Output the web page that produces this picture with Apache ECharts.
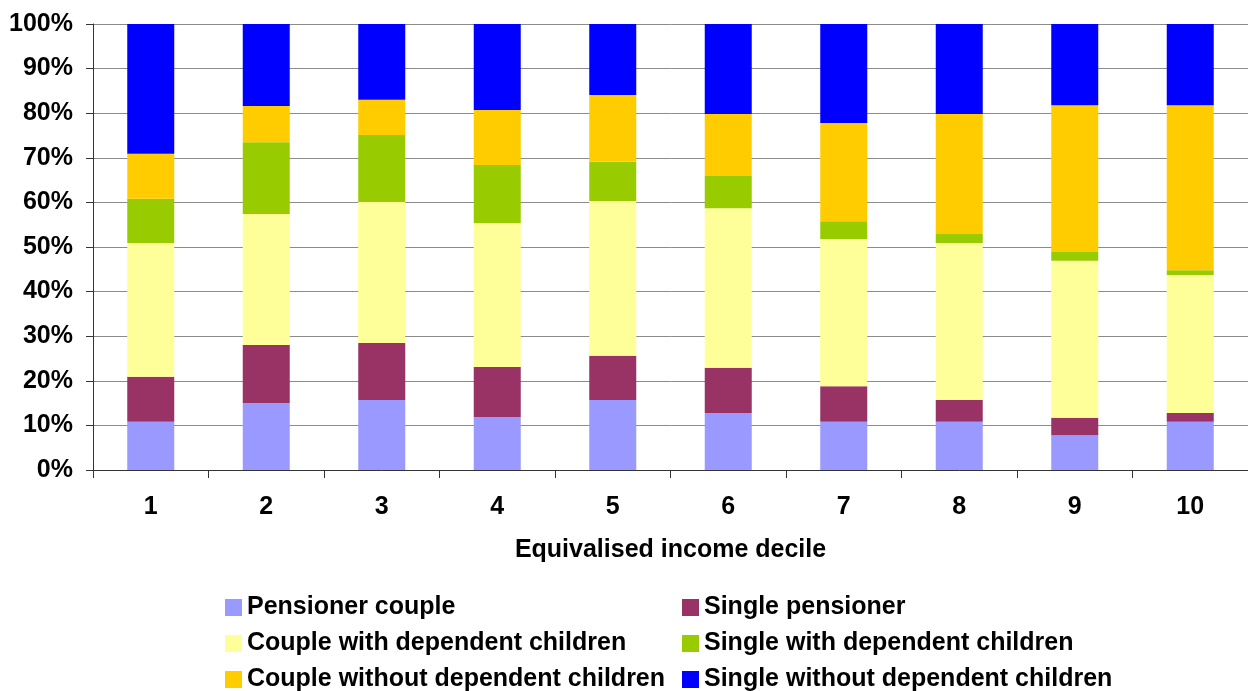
<!DOCTYPE html>
<html>
<head>
<meta charset="utf-8">
<title>Household type by equivalised income decile</title>
<script src="https://cdn.jsdelivr.net/npm/echarts@6/dist/echarts.min.js"></script>
<style>
  html, body { margin: 0; padding: 0; background: #ffffff; }
  #chart { width: 1248px; height: 691px; }
</style>
</head>
<body>
<div id="chart"></div>
<script>
// Income deciles along the x axis
const deciles = ['1', '2', '3', '4', '5', '6', '7', '8', '9', '10'];

// Share of each household type within a decile (%)
const pensionerCouple        = [10.8, 15.0, 15.7, 11.9, 15.7, 12.8, 10.8, 10.8, 7.8, 10.8];
const singlePensioner        = [10.1, 13.0, 12.8, 11.2, 9.9, 10.1, 8.0, 4.9, 3.9, 2.0];
const coupleWithChildren     = [30.0, 29.4, 31.6, 32.3, 34.7, 35.8, 33.0, 35.2, 35.2, 30.9];
const singleWithChildren     = [9.9, 16.1, 15.0, 13.0, 8.8, 7.2, 4.0, 2.0, 2.0, 1.1];
const coupleWithoutChildren  = [10.1, 8.1, 7.9, 12.3, 15.0, 13.9, 22.0, 26.9, 32.9, 37.0];
const singleWithoutChildren  = [29.1, 18.4, 17.0, 19.3, 15.9, 20.2, 22.2, 20.2, 18.2, 18.2];

const seriesNames = [
  'Pensioner couple',
  'Single pensioner',
  'Couple with dependent children',
  'Single with dependent children',
  'Couple without dependent children',
  'Single without dependent children'
];
const seriesValues = [
  pensionerCouple, singlePensioner, coupleWithChildren,
  singleWithChildren, coupleWithoutChildren, singleWithoutChildren
];
const seriesColors = ['#9999FF', '#993366', '#FFFF99', '#99CC00', '#FFCC00', '#0000FF'];

const FONT = "'Liberation Sans', Arial, sans-serif";
const textBase = { fontFamily: FONT, fontWeight: 'bold', fontSize: 25, color: '#000000' };

const chart = echarts.init(document.getElementById('chart'), null, { renderer: 'canvas' });

// Legend laid out as a 2-column, 3-row block: one legend entry per cell
const legendColumns = [225, 682];
const legendRowTops = [595, 631, 667];
const legends = seriesNames.map((name, i) => ({
  orient: 'horizontal',
  left: legendColumns[i % 2],
  top: legendRowTops[Math.floor(i / 2)],
  padding: 0,
  icon: 'rect',
  itemWidth: 17,
  itemHeight: 17,
  selectedMode: false,
  data: [name],
  textStyle: Object.assign({}, textBase, { lineHeight: 25 })
}));

chart.setOption({
  animation: false,
  backgroundColor: '#ffffff',
  grid: { left: 93, top: 24, width: 1164, height: 446, containLabel: false },
  legend: legends,
  xAxis: {
    type: 'category',
    data: deciles,
    boundaryGap: true,
    name: 'Equivalised income decile',
    nameLocation: 'middle',
    nameGap: 68,
    nameTextStyle: textBase,
    axisLine: { show: true, lineStyle: { color: '#333333', width: 1 } },
    axisTick: { show: true, inside: false, length: 8, alignWithLabel: false, lineStyle: { color: '#333333' } },
    axisLabel: Object.assign({}, textBase, { margin: 25, interval: 0 }),
    splitLine: { show: false }
  },
  yAxis: {
    type: 'value',
    min: 0,
    max: 100,
    interval: 10,
    axisLine: { show: true, lineStyle: { color: '#333333', width: 1 } },
    axisTick: { show: true, inside: false, length: 7, lineStyle: { color: '#333333' } },
    axisLabel: Object.assign({}, textBase, { margin: 20, formatter: '{value}%' }),
    splitLine: { show: true, lineStyle: { color: '#8c8c8c', width: 1 } }
  },
  series: seriesNames.map((name, i) => ({
    name: name,
    type: 'bar',
    stack: 'share',
    barWidth: 47,
    data: seriesValues[i],
    itemStyle: { color: seriesColors[i] },
    emphasis: { disabled: true }
  }))
});
</script>
</body>
</html>
